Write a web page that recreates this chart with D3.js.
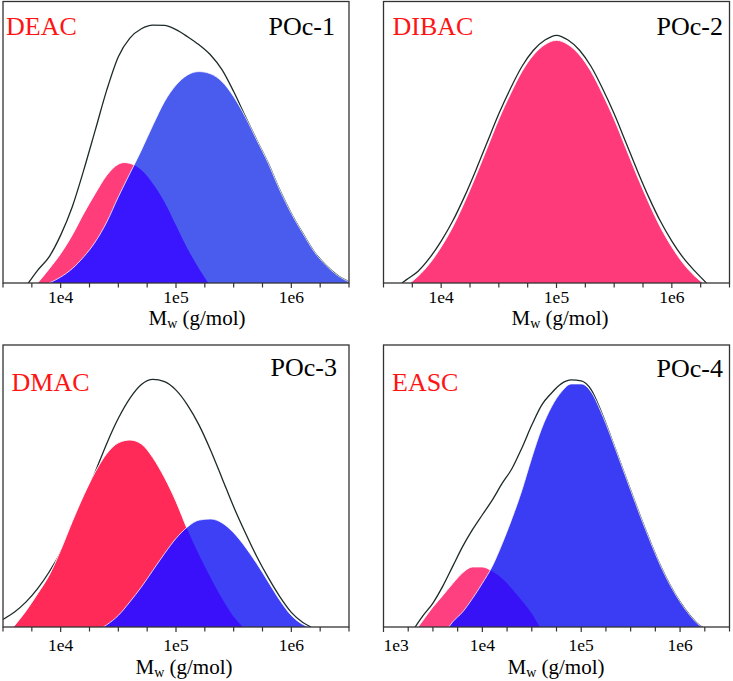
<!DOCTYPE html>
<html><head><meta charset="utf-8">
<script src="https://cdn.jsdelivr.net/npm/d3@7/dist/d3.min.js"></script>
<style>body{margin:0;background:#fff}svg{display:block}</style>
</head><body>
<svg id="chart" width="733" height="681"></svg>
<script>
// ---------- DATA (x = log10 Mw, y = relative intensity) ----------
const p1Catalyst = "DEAC", p1Sample = "POc-1";
const p1BlackLog = [3.72,3.8,3.9,4.0,4.1,4.2,4.3,4.4,4.5,4.6,4.7,4.8,4.9,5.0,5.1,5.2,5.3,5.4,5.5,5.6,5.7,5.8,5.9,6.0,6.1,6.2,6.3,6.4,6.5];
const p1BlackVal = [0,4.5,9.3,17,27,40.1,54.3,68.6,80.4,87,90.3,91.6,91.5,90,87.5,84.6,81,75.7,68,59.3,50.8,42.5,33,24.7,17.6,11,6.3,2.7,0.4];
const p1RedLog = [3.8,3.9,4.0,4.1,4.2,4.3,4.4,4.5,4.55,4.6,4.7,4.8,4.9,5.0,5.1,5.2,5.28];
const p1RedVal = [0,5,10.4,17,24.7,31.8,38.3,42.2,42.8,42.5,40.1,35.3,28.8,20.5,12.2,5.1,0];
const p1BlueLog = [3.9,4.0,4.1,4.2,4.3,4.4,4.5,4.6,4.7,4.8,4.9,5.0,5.1,5.2,5.3,5.4,5.5,5.6,5.7,5.8,5.9,6.0,6.1,6.2,6.3,6.4,6.5];
const p1BlueVal = [0,2.1,5.1,9.3,14.6,21.7,30.6,38.9,47.2,56.1,64.4,70.3,73.9,75.1,74.3,71.5,66.2,59.1,50.8,42.5,33,24.7,17.6,11,6.3,2.7,0.4];

const p2Catalyst = "DIBAC", p2Sample = "POc-2";
const p2BlackLog = [3.66,3.7,3.8,3.9,4.0,4.1,4.2,4.3,4.4,4.5,4.6,4.7,4.8,4.9,5.0,5.1,5.2,5.3,5.4,5.5,5.6,5.7,5.8,5.9,6.0,6.1,6.2,6.3];
const p2BlackVal = [0,1.2,4.2,8.9,14.9,22,30.5,40,50.1,60.1,69,76.9,82.7,86.3,88,86.3,82.7,76.9,69,60.1,50.1,40,30.5,22,14.9,8.9,4.2,0];
const p2RedLog = [3.73,3.8,3.9,4.0,4.1,4.2,4.3,4.4,4.5,4.6,4.7,4.8,4.9,5.0,5.1,5.2,5.3,5.4,5.5,5.6,5.7,5.8,5.9,6.0,6.1,6.2,6.27];
const p2RedVal = [0,2.4,6.9,12.8,19.9,28.5,38,48.1,58.2,67.1,75.1,81,84.7,86.2,84.7,81,75.1,67.1,58.2,48.1,38,28.5,19.9,12.8,6.9,2.4,0];

const p3Catalyst = "DMAC", p3Sample = "POc-3";
const p3BlackLog = [3.5,3.6,3.7,3.8,3.9,4.0,4.1,4.2,4.3,4.4,4.5,4.6,4.7,4.8,4.9,5.0,5.1,5.2,5.3,5.4,5.5,5.6,5.7,5.8,5.9,6.0,6.1,6.17];
const p3BlackVal = [2.7,5.3,8.9,13.6,19.5,26.6,35.5,45,55,65.1,74,81.1,86,87.8,87,84,78.7,71.6,62.7,52.7,42.6,33.5,25,17.5,10.8,5.2,1.6,0];
const p3RedLog = [3.59,3.7,3.8,3.9,4.0,4.1,4.2,4.3,4.4,4.5,4.6,4.7,4.8,4.9,5.0,5.1,5.2,5.3,5.4,5.5,5.58];
const p3RedVal = [0,5.7,11.8,18.3,27.2,37.3,46.7,55,61.5,65.3,66.3,64.9,60,53,44.5,34.5,25.5,17.5,10,3.6,0];
const p3BlueLog = [4.37,4.4,4.5,4.6,4.7,4.8,4.9,5.0,5.1,5.2,5.3,5.4,5.5,5.6,5.7,5.8,5.9,6.0,6.1,6.15];
const p3BlueVal = [0,0.8,4.1,8.9,14.2,20.1,26,31.4,35.5,37.9,38.3,36.9,33.4,28.4,22.5,16,9.5,4.1,0.9,0];

const p4Catalyst = "EASC", p4Sample = "POc-4";
const p4BlackLog = [3.32,3.4,3.5,3.6,3.7,3.8,3.9,4.0,4.1,4.2,4.3,4.4,4.5,4.6,4.7,4.8,4.9,5.0,5.1,5.2,5.3,5.4,5.5,5.6,5.7,5.8,5.9,6.0,6.1,6.2,6.23];
const p4BlackVal = [0,4,8.5,14.5,21.5,28.5,34.5,39.8,45,50.9,56.2,63.5,71.6,78.7,83,86.3,87.6,87.3,84.2,76.6,67.5,58,48.5,39.1,30.2,21.9,14.8,8.9,4.1,0.5,0];
const p4RedLog = [3.35,3.4,3.5,3.6,3.7,3.8,3.9,4.0,4.1,4.2,4.3,4.4,4.5,4.58];
const p4RedVal = [0,2.4,7.1,11.2,15.4,19.2,21.3,21.3,19.8,17.2,13.5,9.3,4.8,0];
const p4BlueLog = [3.66,3.7,3.8,3.9,4.0,4.1,4.2,4.3,4.4,4.5,4.6,4.7,4.8,4.9,5.0,5.1,5.2,5.3,5.4,5.5,5.6,5.7,5.8,5.9,6.0,6.1,6.2,6.23];
const p4BlueVal = [0,1.8,5.3,10.1,15.5,21.5,29.5,38.5,48.5,60,70.4,78.1,83.4,86.2,86.2,83.4,76.3,67.5,58,48.5,39.1,30.2,21.9,14.8,8.9,4.1,0.5,0];

// axis ticks (log10 exponents) and labelled decades
const ticksA = [3.5,3.75,4,4.25,4.5,4.75,5,5.25,5.5,5.75,6,6.25,6.5];
const ticksB = [3,3.25,3.5,3.75,4,4.25,4.5,4.75,5,5.25,5.5,5.75,6,6.25,6.5];
const labelsA = [4,5,6];
const labelsB = [3,4,5,6];
const axisTitle = ["M", "w", " (g/mol)"];

// ---------- DRAWING ----------
const svg = d3.select("#chart");
const zip = (a, b) => a.map((v, i) => [v, b[i]]);
const FONT = "Liberation Serif";

const panels = [
  {id:1, box:[3,349,1.5,283], dom:[3.5,6.5], ticks:ticksA, labels:labelsA, tickBase:302.5, titleX:197, titleY:325,
   cat:p1Catalyst, catPos:[6,35], sample:p1Sample, samplePos:[335,35],
   black:zip(p1BlackLog,p1BlackVal), red:zip(p1RedLog,p1RedVal), blue:zip(p1BlueLog,p1BlueVal),
   redC:"#ff3d7a", blueC:"#4a5cee", overC:"#3a16ff"},
  {id:2, box:[383.5,729.5,1.5,283], dom:[3.5,6.5], ticks:ticksA, labels:labelsA, tickBase:302.5, titleX:560, titleY:325,
   cat:p2Catalyst, catPos:[392.5,35], sample:p2Sample, samplePos:[723,35],
   black:zip(p2BlackLog,p2BlackVal), red:zip(p2RedLog,p2RedVal), blue:null,
   redC:"#ff3a7a"},
  {id:3, box:[3,349,345,627], dom:[3.5,6.5], ticks:ticksA, labels:labelsA, tickBase:651, titleX:184, titleY:673.5,
   cat:p3Catalyst, catPos:[11.5,390.5], sample:p3Sample, samplePos:[337,376],
   black:zip(p3BlackLog,p3BlackVal), red:zip(p3RedLog,p3RedVal), blue:zip(p3BlueLog,p3BlueVal),
   redC:"#ff2a58", blueC:"#3e40f6", overC:"#3a10fa"},
  {id:4, box:[383.5,729.5,345,627], dom:[3,6.5], ticks:ticksB, labels:labelsB, tickBase:651, titleX:556, titleY:673.5,
   cat:p4Catalyst, catPos:[392,390.5], sample:p4Sample, samplePos:[723,376.5],
   black:zip(p4BlackLog,p4BlackVal), red:zip(p4RedLog,p4RedVal), blue:zip(p4BlueLog,p4BlueVal),
   redC:"#ff4080", blueC:"#3b3df4", overC:"#3812f6"}
];

const defs = svg.append("defs");

panels.forEach(p => {
  const [x0,x1,y0,y1] = p.box;
  const x = d3.scaleLog().domain([10**p.dom[0], 10**p.dom[1]]).range([x0,x1]);
  const y = d3.scaleLinear().domain([0,100]).range([y1,y0]);
  const X = d => x(10**d[0]), Y = d => y(d[1]);
  const line = d3.line().x(X).y(Y).curve(d3.curveMonotoneX);
  const area = d3.area().x(X).y0(y(0)).y1(Y).curve(d3.curveMonotoneX);

  defs.append("clipPath").attr("id","frame"+p.id)
    .append("rect").attr("x",x0).attr("y",y0).attr("width",x1-x0).attr("height",y1-y0);
  const g = svg.append("g");
  const plot = g.append("g").attr("clip-path",`url(#frame${p.id})`);

  // total (black) curve, drawn underneath the components
  plot.append("path").attr("d", line(p.black)).attr("fill","none")
    .attr("stroke","#1e2a2a").attr("stroke-width",1.3);

  // red component
  plot.append("path").attr("d", area(p.red)).attr("fill", p.redC);
  plot.append("path").attr("d", line(p.red)).attr("fill","none").attr("stroke","#fff").attr("stroke-width",0.9);

  if (p.blue) {
    plot.append("path").attr("d", area(p.blue)).attr("fill", p.blueC);
    defs.append("clipPath").attr("id","blue"+p.id).append("path").attr("d", area(p.blue));
    plot.append("path").attr("d", area(p.red)).attr("fill", p.overC).attr("clip-path",`url(#blue${p.id})`);
    plot.append("path").attr("d", line(p.blue)).attr("fill","none").attr("stroke","#fff")
      .attr("stroke-width",0.9).attr("stroke-opacity",0.85);
  }

  // frame
  g.append("rect").attr("x",x0).attr("y",y0).attr("width",x1-x0).attr("height",y1-y0)
    .attr("fill","none").attr("stroke","#333").attr("stroke-width",1.3);

  // ticks
  g.selectAll(null).data(p.ticks).join("line")
    .attr("x1", t => x(10**t)).attr("x2", t => x(10**t))
    .attr("y1", y1).attr("y2", t => y1 + (Number.isInteger(t) ? 5 : 4.5))
    .attr("stroke","#333").attr("stroke-width",1.2);

  // tick labels
  g.selectAll(null).data(p.labels).join("text")
    .attr("x", t => x(10**t)).attr("y", p.tickBase)
    .attr("text-anchor","middle").attr("font-family",FONT).attr("font-size",17.5).attr("fill","#000")
    .text(t => "1e" + t)
    .each(function(t){
      const w = this.getComputedTextLength();
      if (x(10**t) - w/2 < x0) d3.select(this).attr("x", x0).attr("text-anchor","start");
    });

  // axis title
  const tt = g.append("text").attr("x", p.titleX).attr("y", p.titleY).attr("text-anchor","middle")
    .attr("font-family",FONT).attr("font-size",21).attr("fill","#000");
  tt.append("tspan").text(axisTitle[0]);
  tt.append("tspan").attr("font-size",14).attr("dy",3).text(axisTitle[1]);
  tt.append("tspan").attr("dy",-3).text(axisTitle[2]);

  // labels
  g.append("text").attr("x",p.catPos[0]).attr("y",p.catPos[1]).attr("font-family",FONT)
    .attr("font-size",26).attr("fill","#ff1414").text(p.cat);
  g.append("text").attr("x",p.samplePos[0]).attr("y",p.samplePos[1]).attr("text-anchor","end")
    .attr("font-family",FONT).attr("font-size",26).attr("fill","#000").text(p.sample);
});
</script>
</body></html>
